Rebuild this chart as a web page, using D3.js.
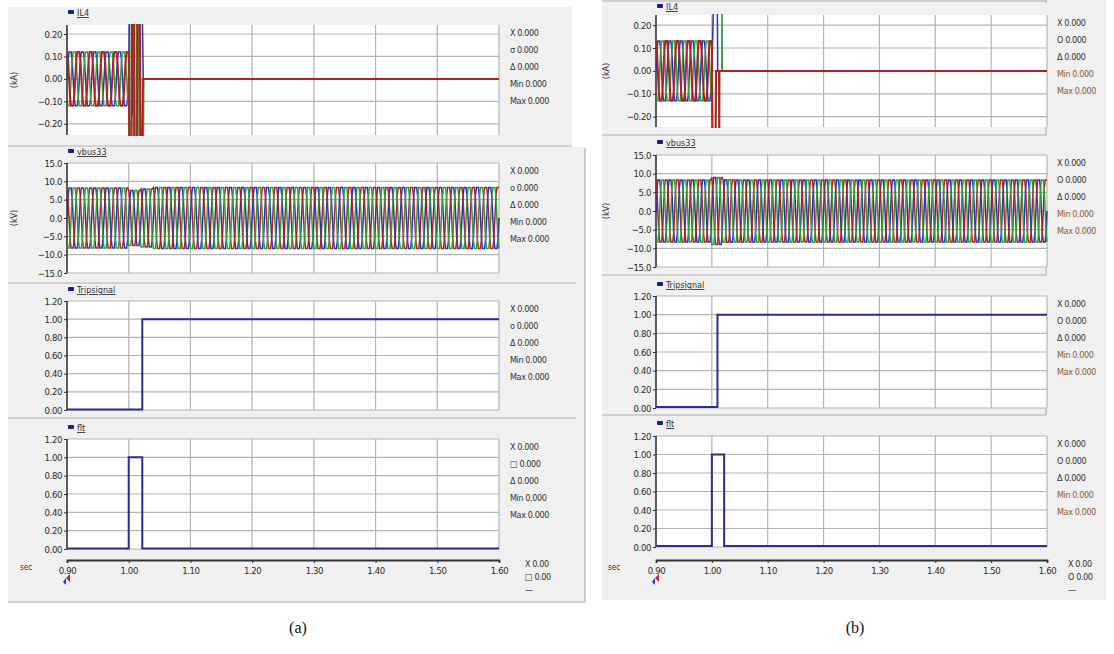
<!DOCTYPE html>
<html>
<head>
<meta charset="utf-8">
<script src="https://cdn.jsdelivr.net/npm/d3@7"></script>
<style>
body { margin: 0; background: #fff; }
svg { display: block; font-family: "Liberation Sans Narrow", "DejaVu Sans Condensed", "Liberation Sans", sans-serif; }
</style>
</head>
<body>
<svg id="chart" width="1114" height="654"></svg>
<script>
// ---- values ----
let timeTicks = [0.90, 1.00, 1.10, 1.20, 1.30, 1.40, 1.50, 1.60]
let ilTicks = [-0.20, -0.10, 0.00, 0.10, 0.20]
let vbusTicks = [-15, -10, -5, 0, 5, 10, 15]
let sigTicks = [0.00, 0.20, 0.40, 0.60, 0.80, 1.00, 1.20]
let statLabels = ['X', 'o', 'Δ', 'Min', 'Max']
let cyclePeriod = 0.02   // 50 Hz
let cycleShape = [0, 0.7, 1, 1, 1, 0.7, 0, -0.7, -1, -1, -1, -0.7]

// pre-fault current peaks, one per cycle 0.90 - 1.00
let il4PreA = [0.12, 0.12, 0.12, 0.12, 0.12]
let il4PreB = [0.13, 0.13, 0.13, 0.13, 0.13]

// fault transient (time, kA), values past the axis are clipped
let il4BlueA = [[1.000, 0], [1.0015, 0.40], [1.0055, 0.40], [1.0065, -0.16], [1.0085, -0.16], [1.0095, 0.40], [1.0215, 0.40], [1.0235, 0], [1.60, 0]]
let il4RedA = [[1.000, 0.12], [1.001, -0.40], [1.0045, -0.40], [1.0055, 0.40], [1.0085, 0.40], [1.0095, -0.40], [1.0135, -0.40], [1.0145, 0.40], [1.018, 0.40], [1.019, -0.40], [1.0215, -0.40], [1.023, 0], [1.60, 0]]
let il4GreenA = [[1.000, -0.12], [1.002, -0.40], [1.0035, -0.40], [1.0045, 0.40], [1.0075, 0.40], [1.0085, -0.40], [1.012, -0.40], [1.013, 0.40], [1.016, 0.40], [1.017, -0.40], [1.0235, -0.40], [1.0245, 0], [1.60, 0]]

let il4BlueB = [[1.000, 0], [1.004, 0.40], [1.0095, 0.40], [1.0105, 0], [1.60, 0]]
let il4RedB = [[1.000, 0.13], [1.0015, -0.40], [1.006, -0.40], [1.0075, 0], [1.0128, 0], [1.0132, -0.40], [1.0136, 0], [1.60, 0]]
let il4GreenB = [[1.000, -0.13], [1.0005, -0.40], [1.0065, -0.40], [1.008, 0], [1.0178, 0], [1.0182, 0.40], [1.0186, 0], [1.60, 0]]

// bus voltage peaks (kV), one per cycle 0.90 - 1.60
let vbusPeakA = [8.2, 8.2, 8.2, 8.2, 8.2, 7.5, 7.9, 8.3, 8.3, 8.3, 8.3, 8.3, 8.3, 8.3, 8.3, 8.3, 8.3, 8.3,
                 8.3, 8.3, 8.3, 8.3, 8.3, 8.3, 8.3, 8.3, 8.3, 8.3, 8.3, 8.3, 8.3, 8.3, 8.3, 8.3, 8.3]
let vbusPeakB = [8.3, 8.3, 8.3, 8.3, 8.3, 9.0, 8.4, 8.3, 8.3, 8.3, 8.3, 8.3, 8.3, 8.3, 8.3, 8.3, 8.3, 8.3,
                 8.3, 8.3, 8.3, 8.3, 8.3, 8.3, 8.3, 8.3, 8.3, 8.3, 8.3, 8.3, 8.3, 8.3, 8.3, 8.3, 8.3]

let tripA = [[0.90, 0.005], [1.022, 0.005], [1.022, 1.0], [1.60, 1.0]]
let fltA = [[0.90, 0.005], [1.00, 0.005], [1.00, 1.0], [1.022, 1.0], [1.022, 0.005], [1.60, 0.005]]
let tripB = [[0.90, 0.012], [1.010, 0.012], [1.010, 1.0], [1.60, 1.0]]
let fltB = [[0.90, 0.01], [1.00, 0.01], [1.00, 1.0], [1.022, 1.0], [1.022, 0.01], [1.60, 0.01]]

let phaseColors = ['#2233bb', '#b02222', '#2f9f35']
let phaseShift = [0, 4, 8]
let sigColor = '#2b2b9c'

let svg = d3.select('#chart')
let defs = svg.append('defs')
let clipId = 0

let buildWave = (peaks, t0, shift) => {
    let n = cycleShape.length
    let pts = []
    peaks.forEach((p, k) => {
        cycleShape.forEach((s, j) => {
            pts.push([t0 + (k + j / n) * cyclePeriod, p * cycleShape[(j + shift) % n]])
        })
    })
    pts.push([t0 + peaks.length * cyclePeriod, peaks[peaks.length - 1] * cycleShape[shift % n]])
    return pts
}

let drawShot = (cfg) => {
    let g = svg.append('g')
    // grey window background
    cfg.bgs.forEach(b => {
        g.append('rect').attr('x', b[0]).attr('y', b[1]).attr('width', b[2] - b[0]).attr('height', b[3] - b[1]).attr('fill', '#f0f0f0')
    })
    cfg.seps.forEach(s => {
        g.append('line').attr('x1', s[0]).attr('x2', s[1]).attr('y1', s[2]).attr('y2', s[2]).attr('stroke', '#c4c4c4').attr('stroke-width', 1.5)
    })
    cfg.vlines.forEach(s => {
        g.append('line').attr('x1', s[0]).attr('x2', s[0]).attr('y1', s[1]).attr('y2', s[2]).attr('stroke', '#b0b0b0').attr('stroke-width', 1.2)
    })

    let x = d3.scaleLinear().domain([0.9, 1.6]).range([cfg.x0, cfg.x1])

    cfg.panels.forEach(p => {
        let y = d3.scaleLinear().domain(p.domain).range([p.bottom, p.top])
        let pg = g.append('g')
        pg.append('rect').attr('x', cfg.x0).attr('y', p.top).attr('width', cfg.x1 - cfg.x0).attr('height', p.bottom - p.top).attr('fill', '#fff')
        // grid
        pg.selectAll('.vg').data(timeTicks.slice(1)).enter().append('line')
            .attr('x1', d => x(d)).attr('x2', d => x(d)).attr('y1', p.top).attr('y2', p.bottom)
            .attr('stroke', '#b4b4b4').attr('stroke-width', 1.2)
        pg.selectAll('.hg').data(p.ticks).enter().append('line')
            .attr('x1', cfg.x0).attr('x2', cfg.x1).attr('y1', d => y(d)).attr('y2', d => y(d))
            .attr('stroke', '#b4b4b4').attr('stroke-width', 1.2)
        // y axis
        let ax = pg.append('g').attr('transform', 'translate(' + cfg.x0 + ',0)')
            .call(d3.axisLeft(y).tickValues(p.ticks).tickFormat(d3.format(p.fmt)).tickSize(3).tickPadding(2))
        ax.select('.domain').attr('stroke', '#333').attr('stroke-width', 1.6).attr('d', 'M0,' + p.top + 'V' + p.bottom)
        ax.selectAll('.tick line').attr('stroke', '#333')
        ax.selectAll('text').attr('font-size', 9.5).attr('fill', '#2a2a2a').attr('letter-spacing', -0.4)
            .attr('font-family', '"Liberation Sans Narrow","DejaVu Sans Condensed",sans-serif')

        // header
        pg.append('rect').attr('x', cfg.x0 + 1).attr('y', p.head - 6).attr('width', 6).attr('height', 4).attr('rx', 1).attr('fill', '#1c1c8c')
        pg.append('text').attr('x', cfg.x0 + 10).attr('y', p.head).attr('font-size', 9).attr('fill', '#333')
            .attr('text-decoration', 'underline').text(p.name)

        if (p.unit) {
            pg.append('text').attr('transform', 'translate(' + cfg.unitX + ',' + ((p.top + p.bottom) / 2) + ') rotate(-90)')
                .attr('text-anchor', 'middle').attr('font-size', 9).attr('fill', '#333').text(p.unit)
        }

        // stats
        pg.selectAll('.st').data(statLabels).enter().append('text')
            .attr('x', cfg.statX).attr('y', (d, i) => p.top + 11 + i * 17)
            .attr('font-size', 9).attr('letter-spacing', -0.4)
            .attr('fill', (d, i) => i >= 3 ? cfg.minColor : '#333')
            .text((d, i) => (i === 1 ? p.sym : d) + ' 0.000')

        // traces
        clipId += 1
        let cid = 'clip' + clipId
        defs.append('clipPath').attr('id', cid).append('rect')
            .attr('x', cfg.x0).attr('y', p.top - 1).attr('width', cfg.x1 - cfg.x0 + 1).attr('height', p.bottom - p.top + 2)
        let line = d3.line().x(d => x(d[0])).y(d => y(d[1]))
        let tg = pg.append('g').attr('clip-path', 'url(#' + cid + ')')
        p.series.forEach(s => {
            tg.append('path').attr('d', line(s.data)).attr('fill', 'none')
                .attr('stroke', s.color).attr('stroke-width', s.width).attr('stroke-linejoin', 'miter')
        })
    })

    // time axis
    let xa = g.append('g').attr('transform', 'translate(0,' + cfg.axisY + ')')
        .call(d3.axisBottom(x).tickValues(timeTicks).tickFormat(d3.format('.2f')).tickSize(3).tickPadding(4))
    xa.select('.domain').attr('stroke', '#333').attr('stroke-width', 1.8)
    xa.selectAll('.tick line').attr('stroke', '#333')
    xa.selectAll('text').attr('font-size', 9.5).attr('fill', '#2a2a2a').attr('letter-spacing', -0.4)
        .attr('font-family', '"Liberation Sans Narrow","DejaVu Sans Condensed",sans-serif')
    g.append('text').attr('x', cfg.secX).attr('y', cfg.axisY + 10).attr('font-size', 8).attr('fill', '#333').text('sec')
    g.append('path').attr('d', 'M' + (cfg.x0 - 1) + ',' + (cfg.axisY + 18) + 'l4,-4v8z').attr('fill', '#d02020')
    g.append('path').attr('d', 'M' + (cfg.x0 - 4) + ',' + (cfg.axisY + 22) + 'l3,-4v7z').attr('fill', '#2233cc')
    let bs = [['X 0.00', 7], [cfg.bottomSym + ' 0.00', 20], ['—', 33]]
    bs.forEach(b => {
        g.append('text').attr('x', cfg.bottomX).attr('y', cfg.axisY + b[1]).attr('font-size', 9).attr('fill', '#333').attr('letter-spacing', -0.4).text(b[0])
    })
    g.append('text').attr('x', cfg.capX).attr('y', 633).attr('text-anchor', 'middle')
        .attr('font-family', '"Liberation Serif", "Times New Roman", serif').attr('font-size', 16).attr('fill', '#111').text(cfg.caption)
}

let phaseSeries = (peaks, t0) => [0, 1, 2].map(i => ({ data: buildWave(peaks, t0, phaseShift[i]), color: phaseColors[i], width: 1.5 }))

drawShot({
    caption: '(a)', capX: 298,
    x0: 67, x1: 499, axisY: 560, secX: 20, statX: 510, bottomX: 525, unitX: 17, bottomSym: '□', minColor: '#333',
    bgs: [[8, 7, 572, 145], [8, 147, 585, 602]],
    seps: [[8, 572, 146], [8, 576, 283], [8, 576, 418], [8, 585, 602]],
    vlines: [[585, 148, 602]],
    panels: [
        { name: 'IL4', unit: '(kA)', sym: 'σ', top: 25, bottom: 135, head: 16, domain: [-0.25, 0.24], ticks: ilTicks, fmt: '.2f',
          series: [
            { data: buildWave(il4PreA, 0.9, phaseShift[0]).concat(il4BlueA), color: phaseColors[0], width: 1.5 },
            { data: buildWave(il4PreA, 0.9, phaseShift[2]).concat(il4GreenA), color: phaseColors[2], width: 1.5 },
            { data: buildWave(il4PreA, 0.9, phaseShift[1]).concat(il4RedA), color: phaseColors[1], width: 2 }
          ] },
        { name: 'vbus33', unit: '(kV)', sym: 'o', top: 163, bottom: 273, head: 155, domain: [-15, 15], ticks: vbusTicks, fmt: '.1f',
          series: phaseSeries(vbusPeakA, 0.9) },
        { name: 'Tripsignal', unit: null, sym: 'o', top: 301, bottom: 410, head: 293, domain: [0, 1.2], ticks: sigTicks, fmt: '.2f',
          series: [{ data: tripA, color: sigColor, width: 2 }] },
        { name: 'flt', unit: null, sym: '□', top: 439, bottom: 549, head: 431, domain: [0, 1.2], ticks: sigTicks, fmt: '.2f',
          series: [{ data: fltA, color: sigColor, width: 2 }] }
    ]
})

drawShot({
    caption: '(b)', capX: 855,
    x0: 656, x1: 1047, axisY: 560, secX: 608, statX: 1057, bottomX: 1068, unitX: 609, bottomSym: 'O', minColor: '#8a5a3a',
    bgs: [[602, 0, 1106, 600]],
    seps: [[602, 1046, 1], [602, 1046, 135], [602, 1046, 275], [602, 1046, 415]],
    vlines: [[1046, 0, 3], [1046, 127, 135], [1046, 267, 275], [1046, 407, 415]],
    panels: [
        { name: 'IL4', unit: '(kA)', sym: 'O', top: 15, bottom: 127, head: 10, domain: [-0.245, 0.244], ticks: ilTicks, fmt: '.2f',
          series: [
            { data: buildWave(il4PreB, 0.9, phaseShift[0]).concat(il4BlueB), color: phaseColors[0], width: 1.5 },
            { data: buildWave(il4PreB, 0.9, phaseShift[2]).concat(il4GreenB), color: phaseColors[2], width: 1.5 },
            { data: buildWave(il4PreB, 0.9, phaseShift[1]).concat(il4RedB), color: phaseColors[1], width: 2 }
          ] },
        { name: 'vbus33', unit: '(kV)', sym: 'O', top: 155, bottom: 267, head: 146, domain: [-15, 15], ticks: vbusTicks, fmt: '.1f',
          series: phaseSeries(vbusPeakB, 0.9) },
        { name: 'Tripsignal', unit: null, sym: 'O', top: 296, bottom: 408, head: 288, domain: [0, 1.2], ticks: sigTicks, fmt: '.2f',
          series: [{ data: tripB, color: sigColor, width: 2 }] },
        { name: 'flt', unit: null, sym: 'O', top: 436, bottom: 547, head: 427, domain: [0, 1.2], ticks: sigTicks, fmt: '.2f',
          series: [{ data: fltB, color: sigColor, width: 2 }] }
    ]
})
</script>
</body>
</html>
